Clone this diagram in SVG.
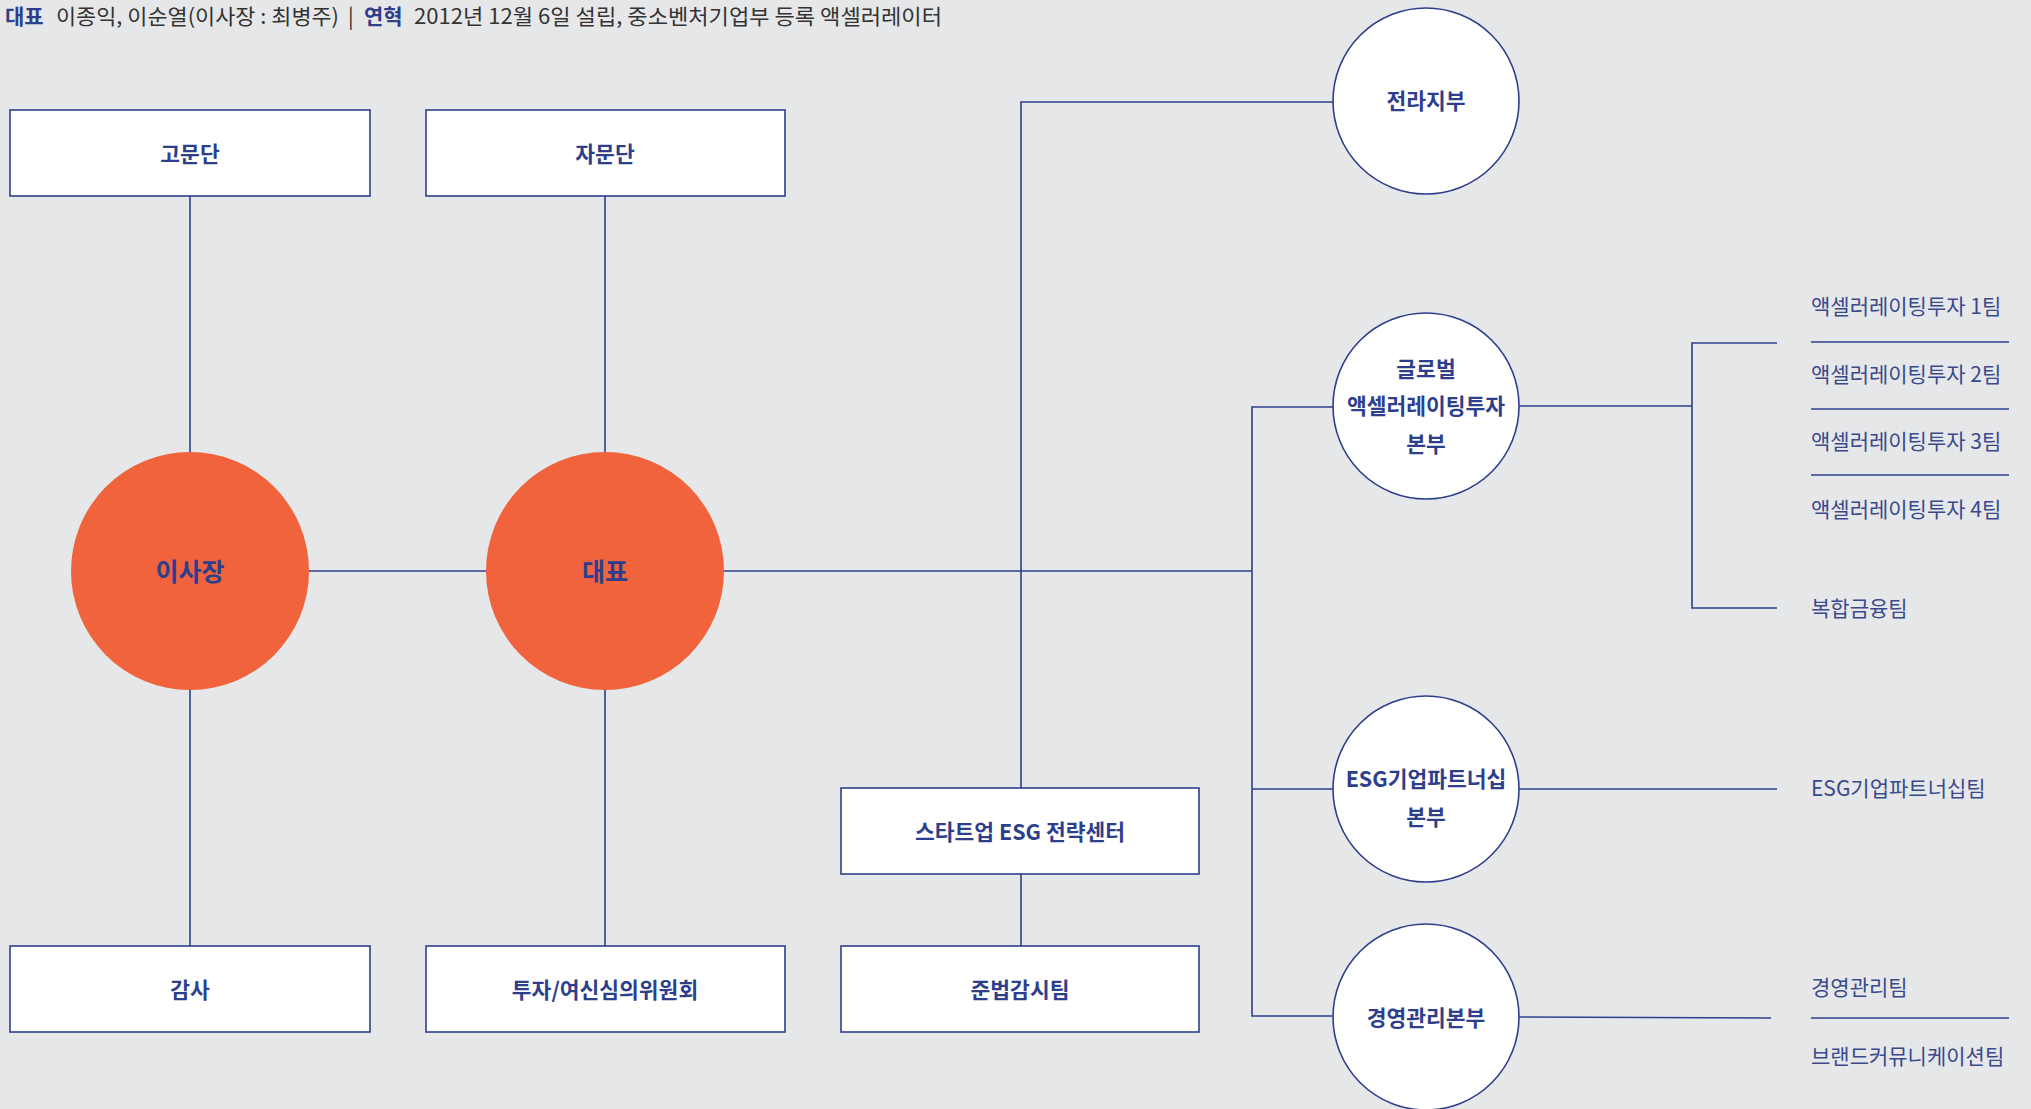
<svg xmlns="http://www.w3.org/2000/svg" width="2031" height="1109" viewBox="0 0 2031 1109">
<style>
.bg{fill:#E6E7E9}
.ln{stroke:#2D3F8C;stroke-width:1.6;fill:none}
.box{fill:#FFFFFF;stroke:#2D3F8C;stroke-width:1.6}
.circ{fill:#FFFFFF;stroke:#2D3F8C;stroke-width:1.6}
.org{fill:#F0633C}
.t{font-family:"Noto Sans CJK KR","Noto Sans",sans-serif;font-weight:700;font-size:21.5px;fill:#2D3F8C;text-anchor:middle;dominant-baseline:central}
.tb{font-size:25px}
.tm{font-family:"Noto Sans CJK KR","Noto Sans",sans-serif;font-weight:400;font-size:21px;fill:#3A4A8C;dominant-baseline:central}
.h{font-family:"Noto Sans CJK KR","Noto Sans",sans-serif;font-size:21px;fill:#333333;dominant-baseline:central}
.hb{font-weight:700;fill:#2D3F8C}
</style>
<rect class="bg" x="0" y="0" width="2031" height="1109"/>

<g id="header">
<text class="h hb" x="5" y="15">대표</text>
<text class="h" x="56" y="15" textLength="283" lengthAdjust="spacingAndGlyphs">이종익, 이순열(이사장 : 최병주)</text>
<text class="h" x="348" y="15">|</text>
<text class="h hb" x="364" y="15">연혁</text>
<text class="h" x="414" y="15" textLength="528" lengthAdjust="spacingAndGlyphs">2012년 12월 6일 설립, 중소벤처기업부 등록 액셀러레이터</text>
</g>

<g id="connectors">
<line class="ln" x1="190" y1="196" x2="190" y2="452"/>
<line class="ln" x1="190" y1="690" x2="190" y2="946"/>
<line class="ln" x1="605" y1="196" x2="605" y2="452"/>
<line class="ln" x1="605" y1="690" x2="605" y2="946"/>
<line class="ln" x1="309" y1="571" x2="486" y2="571"/>
<line class="ln" x1="724" y1="571" x2="1252" y2="571"/>
<polyline class="ln" points="1333,102 1021,102 1021,788"/>
<line class="ln" x1="1021" y1="874" x2="1021" y2="946"/>
<polyline class="ln" points="1333,407 1252,407 1252,1016 1333,1016"/>
<line class="ln" x1="1252" y1="789" x2="1333" y2="789"/>
<line class="ln" x1="1519" y1="406" x2="1692" y2="406"/>
<polyline class="ln" points="1777,343 1692,343 1692,608 1777,608"/>
<line class="ln" x1="1519" y1="789" x2="1777" y2="789"/>
<line class="ln" x1="1519" y1="1017" x2="1771" y2="1018"/>
<line class="ln" x1="1811" y1="342" x2="2009" y2="342"/>
<line class="ln" x1="1811" y1="409" x2="2009" y2="409"/>
<line class="ln" x1="1811" y1="475" x2="2009" y2="475"/>
<line class="ln" x1="1811" y1="1018" x2="2009" y2="1018"/>
</g>

<g id="n-gomundan"><rect class="box" x="10" y="110" width="360" height="86"/><text class="t" x="190" y="152">고문단</text></g>
<g id="n-jamundan"><rect class="box" x="426" y="110" width="359" height="86"/><text class="t" x="605" y="152">자문단</text></g>
<g id="n-isajang"><circle class="org" cx="190" cy="571" r="119"/><text class="t tb" x="190" y="570">이사장</text></g>
<g id="n-daepyo"><circle class="org" cx="605" cy="571" r="119"/><text class="t tb" x="605" y="570">대표</text></g>
<g id="n-gamsa"><rect class="box" x="10" y="946" width="360" height="86"/><text class="t" x="190" y="988">감사</text></g>
<g id="n-tuja"><rect class="box" x="426" y="946" width="359" height="86"/><text class="t" x="605" y="988">투자/여신심의위원회</text></g>
<g id="n-startup"><rect class="box" x="841" y="788" width="358" height="86"/><text class="t" x="1020" y="830">스타트업 ESG 전략센터</text></g>
<g id="n-junbeop"><rect class="box" x="841" y="946" width="358" height="86"/><text class="t" x="1020" y="988">준법감시팀</text></g>
<g id="n-jeolla"><circle class="circ" cx="1426" cy="101" r="93"/><text class="t" x="1426" y="99">전라지부</text></g>
<g id="n-global"><circle class="circ" cx="1426" cy="406" r="93"/><text class="t" x="1426" y="367">글로벌</text><text class="t" x="1426" y="404">액셀러레이팅투자</text><text class="t" x="1426" y="442">본부</text></g>
<g id="n-esg"><circle class="circ" cx="1426" cy="789" r="93"/><text class="t" x="1426" y="777">ESG기업파트너십</text><text class="t" x="1426" y="815">본부</text></g>
<g id="n-mgmt"><circle class="circ" cx="1426" cy="1017" r="93"/><text class="t" x="1426" y="1016">경영관리본부</text></g>

<g id="n-team1"><text class="tm" x="1811" y="305">액셀러레이팅투자 1팀</text></g>
<g id="n-team2"><text class="tm" x="1811" y="373">액셀러레이팅투자 2팀</text></g>
<g id="n-team3"><text class="tm" x="1811" y="440">액셀러레이팅투자 3팀</text></g>
<g id="n-team4"><text class="tm" x="1811" y="508">액셀러레이팅투자 4팀</text></g>
<g id="n-finance"><text class="tm" x="1811" y="607">복합금융팀</text></g>
<g id="n-esgteam"><text class="tm" x="1811" y="787">ESG기업파트너십팀</text></g>
<g id="n-mgmtteam"><text class="tm" x="1811" y="986">경영관리팀</text></g>
<g id="n-brand"><text class="tm" x="1811" y="1055">브랜드커뮤니케이션팀</text></g>
</svg>
